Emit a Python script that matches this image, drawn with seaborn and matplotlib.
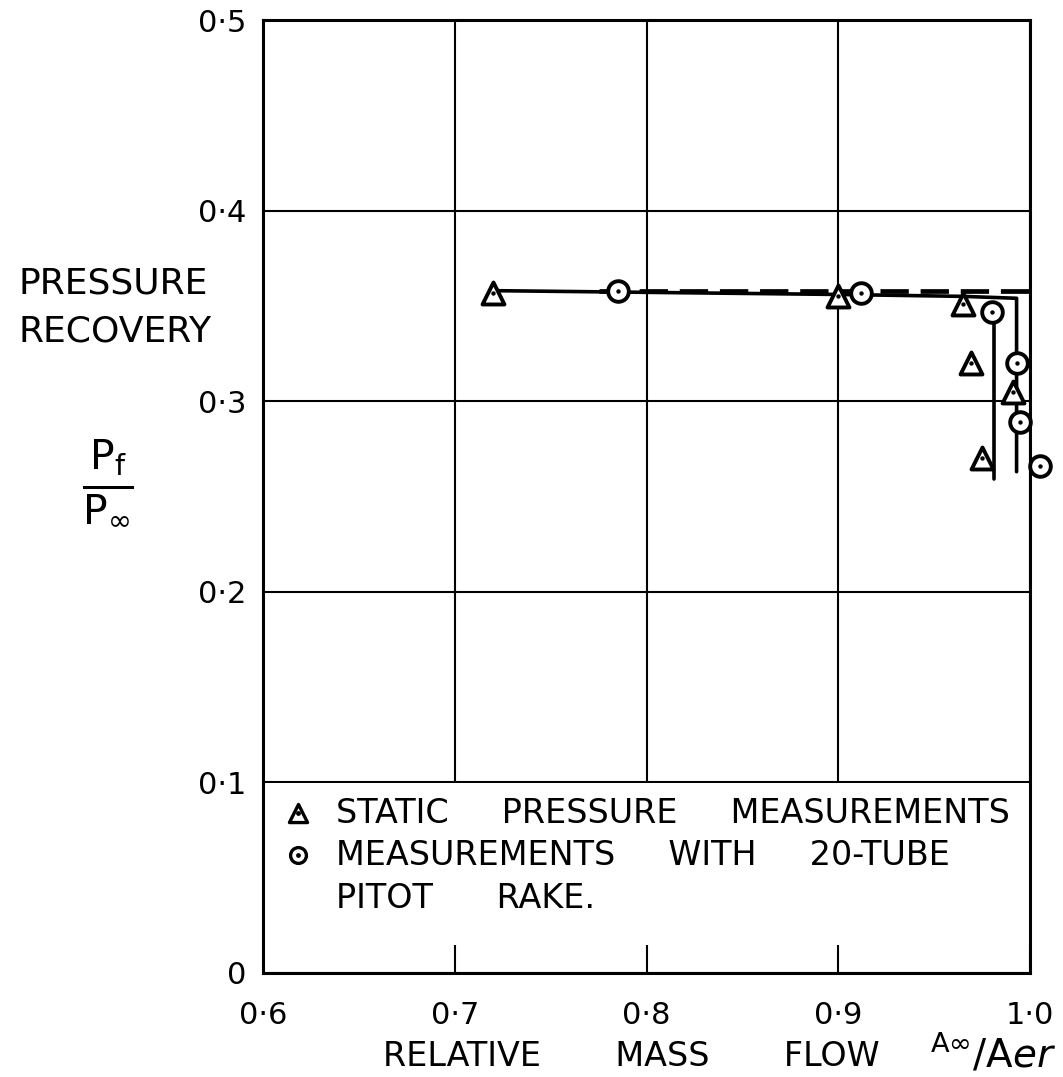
import matplotlib
matplotlib.use("Agg")
import matplotlib.pyplot as plt
import seaborn as sns
import pandas as pd
from matplotlib.patches import Rectangle

# ---- data ----
static_x = [0.720, 0.900, 0.965, 0.969, 0.991, 0.975]
static_y = [0.357, 0.355, 0.351, 0.320, 0.305, 0.270]

pitot_x = [0.785, 0.912, 0.980, 0.993, 0.995, 1.005]
pitot_y = [0.358, 0.357, 0.347, 0.320, 0.289, 0.266]

# faired curves
solid1_x = [0.720, 0.900, 0.965, 0.993, 0.993]
solid1_y = [0.358, 0.356, 0.355, 0.354, 0.263]
solid2_x = [0.981, 0.981]
solid2_y = [0.348, 0.259]
dash_x = [0.775, 1.000]
dash_y = [0.358, 0.358]

x_ticks = [0.6, 0.7, 0.8, 0.9, 1.0]
x_tick_labels = ["0·6", "0·7", "0·8", "0·9", "1·0"]
y_ticks = [0.0, 0.1, 0.2, 0.3, 0.4, 0.5]
y_tick_labels = ["0", "0·1", "0·2", "0·3", "0·4", "0·5"]

legend_labels = ["STATIC     PRESSURE     MEASUREMENTS",
                 "MEASUREMENTS     WITH     20-TUBE",
                 "PITOT      RAKE."]

sns.set_theme(style="white")
plt.rcParams['font.family'] = ['DejaVu Sans']
plt.rcParams['text.color'] = 'black'
plt.rcParams['axes.labelcolor'] = 'black'
plt.rcParams['xtick.color'] = 'black'
plt.rcParams['ytick.color'] = 'black'

W, H = 1063, 1077
fig = plt.figure(figsize=(W / 100, H / 100), dpi=100)
L, R, T, B = 263, 1030, 20, 973
ax = fig.add_axes([L / W, 1 - B / H, (R - L) / W, (B - T) / H])

ax.set_xlim(0.6, 1.0)
ax.set_ylim(0.0, 0.5)
ax.set_xticks(x_ticks)
ax.set_xticklabels(x_tick_labels, fontsize=22)
ax.set_yticks(y_ticks)
ax.set_yticklabels(y_tick_labels, fontsize=22)
ax.tick_params(axis="x", length=0, pad=20, colors="black")
ax.tick_params(axis="y", length=0, pad=12, colors="black")
ax.set_axisbelow(True)
ax.grid(True, color="black", linewidth=1.5)
for s in ax.spines.values():
    s.set_color("black")
    s.set_linewidth(2.2)

# legend panel blanking the grid
ax.add_patch(Rectangle((0.6, 0.0147), 0.4, 0.0848, facecolor="white",
                       edgecolor="none", zorder=1))

# curves
d1 = pd.DataFrame({"x": solid1_x, "y": solid1_y})
d2 = pd.DataFrame({"x": solid2_x, "y": solid2_y})
d3 = pd.DataFrame({"x": dash_x, "y": dash_y})
sns.lineplot(data=d1, x="x", y="y", sort=False, estimator=None, color="black",
             linewidth=2.6, ax=ax, zorder=3)
sns.lineplot(data=d2, x="x", y="y", sort=False, estimator=None, color="black",
             linewidth=2.6, ax=ax, zorder=3)
sns.lineplot(data=d3, x="x", y="y", sort=False, estimator=None, color="black",
             linewidth=3.4, linestyle=(0, (6, 2.5)), ax=ax, zorder=3)

# markers
ds = pd.DataFrame({"x": static_x, "y": static_y})
dp = pd.DataFrame({"x": pitot_x, "y": pitot_y})
sns.scatterplot(data=ds, x="x", y="y", marker="^", s=250, facecolor="white",
                edgecolor="black", linewidth=2.8, ax=ax, zorder=4, clip_on=False)
sns.scatterplot(data=dp, x="x", y="y", marker="o", s=220, facecolor="white",
                edgecolor="black", linewidth=2.8, ax=ax, zorder=4, clip_on=False)
sns.scatterplot(data=ds, x="x", y="y", marker="o", s=10, color="black",
                linewidth=0, ax=ax, zorder=5, clip_on=False)
sns.scatterplot(data=dp, x="x", y="y", marker="o", s=10, color="black",
                linewidth=0, ax=ax, zorder=5, clip_on=False)

ax.set_xlabel("")
ax.set_ylabel("")

# legend (hand-drawn style)
lx_m, lx_t = 0.618, 0.638
ly = [0.0839, 0.0618, 0.0393]
ax.scatter([lx_m], [ly[0]], marker="^", s=170, facecolor="white",
           edgecolor="black", linewidth=2.4, zorder=6)
ax.scatter([lx_m], [ly[0]], marker="o", s=6, color="black", zorder=7)
ax.scatter([lx_m], [ly[1]], marker="o", s=130, facecolor="white",
           edgecolor="black", linewidth=2.4, zorder=6)
ax.scatter([lx_m], [ly[1]], marker="o", s=6, color="black", zorder=7)
for yy, lab in zip(ly, legend_labels):
    ax.text(lx_t, yy, lab, fontsize=24, ha="left", va="center", zorder=6)

# axis labels
fig.text(113 / W, 1 - 283 / H, "PRESSURE", fontsize=26, ha="center", va="center")
fig.text(115 / W, 1 - 331 / H, "RECOVERY", fontsize=26, ha="center", va="center")
fig.text(108 / W, 1 - 482 / H, r"$\frac{\mathrm{P_f}}{\mathrm{P_\infty}}$",
         fontsize=42, ha="center", va="center")
fig.text(880 / W, 1 - 1066 / H, "RELATIVE       MASS       FLOW",
         fontsize=24, ha="right", va="baseline")
fig.text(1056 / W, 1 - 1066 / H,
         r"$^{\mathrm{A}\infty}/\mathrm{A}\mathit{er}$",
         fontsize=28, ha="right", va="baseline")

fig.savefig("out.png", dpi=100, facecolor="white")
